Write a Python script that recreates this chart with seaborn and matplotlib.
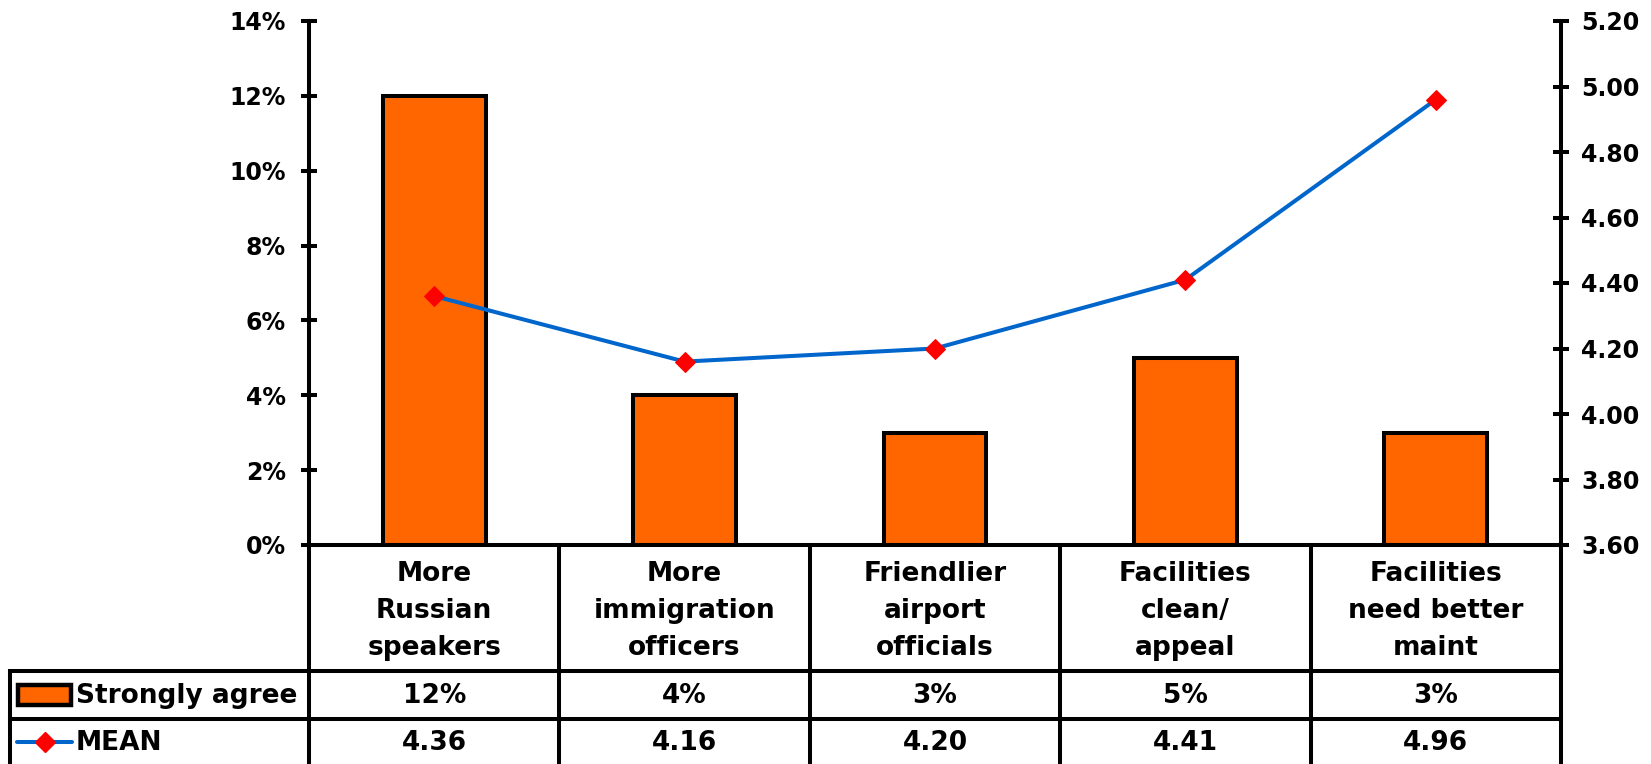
import matplotlib
matplotlib.use("Agg")
import matplotlib.pyplot as plt
import matplotlib.ticker as mticker
from matplotlib.lines import Line2D
from matplotlib.patches import Rectangle
import seaborn as sns
import pandas as pd

# data
categories = ["More\nRussian\nspeakers", "More\nimmigration\nofficers", "Friendlier\nairport\nofficials",
              "Facilities\nclean/\nappeal", "Facilities\nneed better\nmaint"]
strongly_agree = [0.12, 0.04, 0.03, 0.05, 0.03]
mean_scores = [4.36, 4.16, 4.20, 4.41, 4.96]
bar_label = "Strongly agree"
line_label = "MEAN"

ORANGE = "#FF6600"
BLUE = "#0066CC"
RED = "#FF0000"
FONT = ["DejaVu Sans"]

sns.set_theme(style="white")
plt.rcParams["font.family"] = FONT
plt.rcParams["font.weight"] = "bold"
plt.rcParams["text.color"] = "black"

W, H = 1651, 764
fig = plt.figure(figsize=(W / 100, H / 100), dpi=100)

# pixel layout
x_left, x_right = 309, 1561
y_top, y_zero = 21, 545
row1, row2 = 671, 719
tab_left = 10
LW = 2.9
TXT = 19
TICK = 17

ax = fig.add_axes([x_left / W, 1 - y_zero / H, (x_right - x_left) / W, (y_zero - y_top) / H])
df = pd.DataFrame({"cat": categories, "val": strongly_agree})
sns.barplot(data=df, x="cat", y="val", ax=ax, color=ORANGE, width=0.41,
            edgecolor="black", linewidth=LW, saturation=1)
ax.set_xlim(-0.5, len(categories) - 0.5)
ax.set_ylim(0, 0.14)
ax.yaxis.set_major_locator(mticker.MultipleLocator(0.02))
ax.yaxis.set_major_formatter(mticker.FuncFormatter(lambda v, p: f"{v * 100:.0f}%"))
ax.set_xticks([])
ax.set_xlabel("")
ax.set_ylabel("")
for s in ["top", "right", "bottom"]:
    ax.spines[s].set_visible(False)
ax.spines["left"].set_linewidth(LW)
ax.spines["left"].set_color("black")
ax.tick_params(axis="y", direction="inout", length=11.5, width=LW, colors="black",
               labelsize=TICK, pad=11, left=True)
for t in ax.get_yticklabels():
    t.set_fontweight("bold")

ax2 = ax.twinx()
sns.lineplot(x=list(range(len(categories))), y=mean_scores, ax=ax2, color=BLUE, linewidth=LW,
             marker="D", markersize=10, markerfacecolor=RED, markeredgecolor=RED)
ax2.set_ylim(3.6, 5.2)
ax2.yaxis.set_major_locator(mticker.MultipleLocator(0.2))
ax2.yaxis.set_major_formatter(mticker.FormatStrFormatter("%.2f"))
for s in ["top", "left", "bottom"]:
    ax2.spines[s].set_visible(False)
ax2.spines["right"].set_linewidth(LW)
ax2.spines["right"].set_color("black")
ax2.tick_params(axis="y", direction="inout", length=11.5, width=LW, colors="black",
                labelsize=TICK, pad=9, right=True)
for t in ax2.get_yticklabels():
    t.set_fontweight("bold")
ax2.set_ylabel("")

# data table below the chart, drawn in pixel coordinates
tab = fig.add_axes([0, 0, 1, 1])
tab.set_xlim(0, W)
tab.set_ylim(H, 0)
tab.axis("off")
col_w = (x_right - x_left) / len(categories)
edges = [x_left + i * col_w for i in range(len(categories) + 1)]
tab.plot([x_left, x_right], [y_zero, y_zero], color="black", lw=LW, solid_capstyle="projecting")
tab.plot([tab_left, x_right], [row1, row1], color="black", lw=LW, solid_capstyle="projecting")
tab.plot([tab_left, x_right], [row2, row2], color="black", lw=LW, solid_capstyle="projecting")
for e in edges:
    tab.plot([e, e], [y_zero, H + 5], color="black", lw=LW)
tab.plot([tab_left, tab_left], [row1, H + 5], color="black", lw=LW)

for i, cat in enumerate(categories):
    cx = (edges[i] + edges[i + 1]) / 2
    tab.text(cx, (y_zero + row1) / 2 + 3, cat, ha="center", va="center", fontsize=TXT,
             fontweight="bold", linespacing=1.55, color="black")
    tab.text(cx, (row1 + row2) / 2 + 1, f"{strongly_agree[i] * 100:.0f}%", ha="center",
             va="center", fontsize=TXT, fontweight="bold", color="black")
    tab.text(cx, (row2 + H) / 2 + 2, f"{mean_scores[i]:.2f}", ha="center", va="center",
             fontsize=TXT, fontweight="bold", color="black")

# legend keys in the first column
tab.add_patch(Rectangle((18, 685), 53, 20, facecolor=ORANGE, edgecolor="black", lw=3.2))
tab.text(76, (row1 + row2) / 2 + 1, bar_label, ha="left", va="center", fontsize=TXT,
         fontweight="bold", color="black")
tab.add_line(Line2D([17, 72], [742, 742], color=BLUE, lw=LW))
tab.plot([44.5], [742], marker="D", markersize=10, color=RED)
tab.text(76, (row2 + H) / 2 + 2, line_label, ha="left", va="center", fontsize=TXT,
         fontweight="bold", color="black")

fig.savefig("out.png", dpi=100)
